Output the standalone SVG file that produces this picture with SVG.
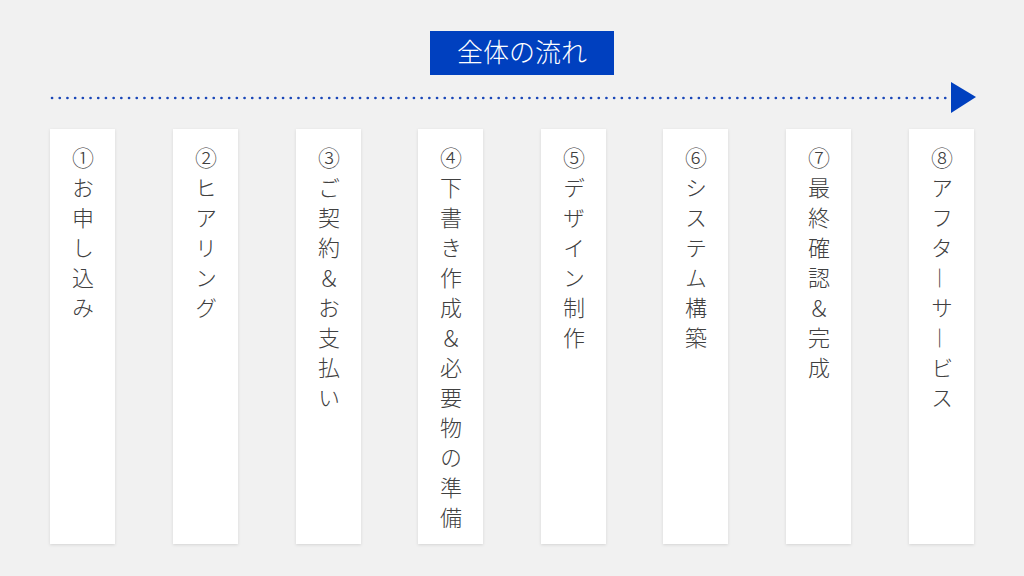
<svg xmlns="http://www.w3.org/2000/svg" width="1024" height="576" viewBox="0 0 1024 576">
<defs>
<filter id="sh" x="-20%" y="-5%" width="140%" height="110%">
<feDropShadow dx="0" dy="1" stdDeviation="1.5" flood-color="#000" flood-opacity="0.12"/>
</filter>
<style>
.card{fill:#ffffff;filter:url(#sh)}
.lbl{font-family:"Noto Sans CJK JP","Noto Sans",sans-serif;font-size:22px;font-weight:300;fill:#404040;writing-mode:vertical-rl;text-orientation:mixed;letter-spacing:8px}
.title{font-family:"Noto Sans CJK JP","Noto Sans",sans-serif;font-size:26px;font-weight:300;fill:#ffffff}
</style>
</defs>
<rect width="1024" height="576" fill="#f1f1f1"/>
<g id="title">
<rect x="430" y="31" width="184" height="44" fill="#0040bf"/>
<text class="title" x="522" y="62" text-anchor="middle">全体の流れ</text>
</g>
<g id="connectors">
<line x1="52" y1="98" x2="951" y2="98" stroke="#1a47b8" stroke-width="2.6" stroke-linecap="round" stroke-dasharray="0.1 7.6"/>
<polygon points="951,82 976,97 951,113" fill="#0040bf"/>
</g>
<g id="step1"><rect class="card" x="50" y="129" width="65" height="415"/><text class="lbl" x="83" y="147">①お申し込み</text></g>
<g id="step2"><rect class="card" x="173" y="129" width="65" height="415"/><text class="lbl" x="206" y="147">②ヒアリング</text></g>
<g id="step3"><rect class="card" x="296" y="129" width="65" height="415"/><text class="lbl" x="329" y="147">③ご契約＆お支払い</text></g>
<g id="step4"><rect class="card" x="418" y="129" width="65" height="415"/><text class="lbl" x="451" y="147">④下書き作成＆必要物の準備</text></g>
<g id="step5"><rect class="card" x="541" y="129" width="65" height="415"/><text class="lbl" x="574" y="147">⑤デザイン制作</text></g>
<g id="step6"><rect class="card" x="663" y="129" width="65" height="415"/><text class="lbl" x="696" y="147">⑥システム構築</text></g>
<g id="step7"><rect class="card" x="786" y="129" width="65" height="415"/><text class="lbl" x="819" y="147">⑦最終確認＆完成</text></g>
<g id="step8"><rect class="card" x="909" y="129" width="65" height="415"/><text class="lbl" x="942" y="147">⑧アフタ―サ―ビス</text></g>
</svg>
